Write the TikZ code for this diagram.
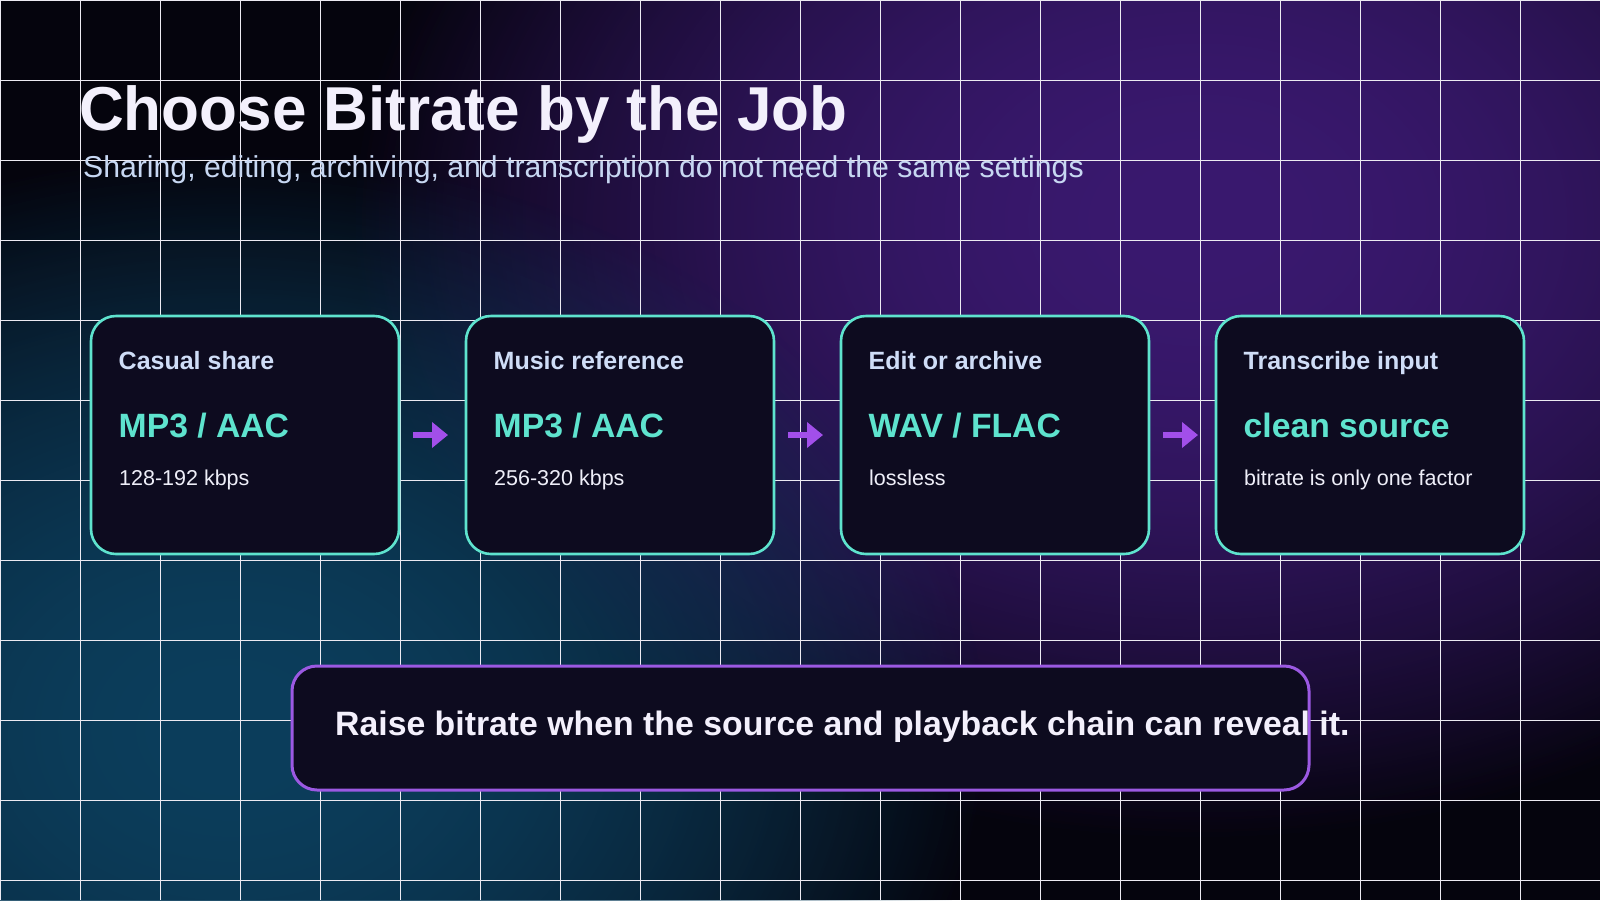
\documentclass[tikz,border=0pt]{standalone}
\usepackage{fontspec}
\setmainfont{Liberation Sans}
\usetikzlibrary{positioning,arrows.meta,fadings}

\definecolor{bgbase}{HTML}{05040D}
\definecolor{glowteal}{HTML}{0C3E5C}
\definecolor{glowpurple}{HTML}{3A196F}
\definecolor{gridwhite}{HTML}{ECEAF2}
\definecolor{cardfill}{HTML}{0D0B1F}
\definecolor{cardedge}{HTML}{5EE3CE}
\definecolor{headblue}{HTML}{CFDDF7}
\definecolor{valueteal}{HTML}{5EE3CE}
\definecolor{notewhite}{HTML}{EEEEF8}
\definecolor{flowpurple}{HTML}{A24FEA}
\definecolor{tipedge}{HTML}{9B59E2}
\definecolor{titlewhite}{HTML}{F3F0FC}
\definecolor{subblue}{HTML}{C7D7F2}

\tikzfading[name=glowfade, inner color=transparent!0, outer color=transparent!100]

\begin{document}
\begin{tikzpicture}[x=1pt, y=-1pt]
            \tikzset{
                card/.style = {shape=rectangle, rounded corners=25pt, draw=cardedge, line width=2.6pt, fill=cardfill, minimum width=308pt, minimum height=238pt, inner sep=0pt, outer sep=0pt},
                headtext/.style = {anchor=base west, inner sep=0pt, text=headblue, font=\fontsize{25pt}{29pt}\selectfont\bfseries},
                valuetext/.style = {anchor=base west, inner sep=0pt, text=valueteal, font=\fontsize{33.7pt}{38pt}\selectfont\bfseries},
                notetext/.style = {anchor=base west, inner sep=0pt, text=notewhite, font=\fontsize{21.5pt}{25pt}\selectfont},
                flow/.style = {-{Triangle[length=16pt, width=25pt]}, line width=6pt, draw=flowpurple, shorten <=14pt, shorten >=18pt},
                gridline/.style = {draw=gridwhite, line width=1pt},
                tipbox/.style = {shape=rectangle, rounded corners=25pt, draw=tipedge, line width=3pt, fill=cardfill, minimum width=1017pt, minimum height=124pt, inner sep=0pt, outer sep=0pt}
            }

            \useasboundingbox (0,0) rectangle (1600,900);

            % background and glows (each glow laid twice for a softer top)
            \begin{scope}
                \clip (0,0) rectangle (1600,900);
                \fill[bgbase] (0,0) rectangle (1600,900);
                \foreach \layer in {1,2} {
                    \fill[glowpurple, path fading=glowfade] (1200,220) ellipse (850 and 620);
                    \fill[glowteal, path fading=glowfade] (230,730) ellipse (760 and 580);
                }
                \foreach \gx in {0,80,...,1600} \draw[gridline] (\gx,0) -- (\gx,900);
                \foreach \gy in {0,80,...,880} \draw[gridline] (0,\gy) -- (1600,\gy);
            \end{scope}

            \node[anchor=base west, inner sep=0pt, text=titlewhite, font=\fontsize{62pt}{70pt}\selectfont\bfseries] (title) at (79,130) {Choose Bitrate by the Job};
            \node[anchor=base west, inner sep=0pt, text=subblue, font=\fontsize{30.2pt}{35pt}\selectfont] (subtitle) at (83,177) {Sharing, editing, archiving, and transcription do not need the same settings};

            \node[card] (card1) at (245,435) {};
            \node[card, right=67pt of card1] (card2) {};
            \node[card, right=67pt of card2] (card3) {};
            \node[card, right=67pt of card3] (card4) {};

            \node[headtext] (head1) at (118.5,369) {Casual share};
            \node[valuetext] (value1) at (118.5,437) {MP3 / AAC};
            \node[notetext] (note1) at (119,485) {128-192 kbps};

            \node[headtext] (head2) at (493.5,369) {Music reference};
            \node[valuetext] (value2) at (493.5,437) {MP3 / AAC};
            \node[notetext] (note2) at (494,485) {256-320 kbps};

            \node[headtext] (head3) at (868.5,369) {Edit or archive};
            \node[valuetext] (value3) at (868.5,437) {WAV / FLAC};
            \node[notetext] (note3) at (869,485) {lossless};

            \node[headtext] (head4) at (1243.5,369) {Transcribe input};
            \node[valuetext] (value4) at (1243.5,437) {clean source};
            \node[notetext] (note4) at (1244,485) {bitrate is only one factor};

            \draw[flow] (card1) -- (card2);
            \draw[flow] (card2) -- (card3);
            \draw[flow] (card3) -- (card4);

            \node[tipbox] (tip) at (800.5,728) {};
            \node[anchor=base west, inner sep=0pt, text=titlewhite, font=\fontsize{33.8pt}{40pt}\selectfont\bfseries] (tiptext) at (335,735) {Raise bitrate when the source and playback chain can reveal it.};

        \end{tikzpicture}
\end{document}
